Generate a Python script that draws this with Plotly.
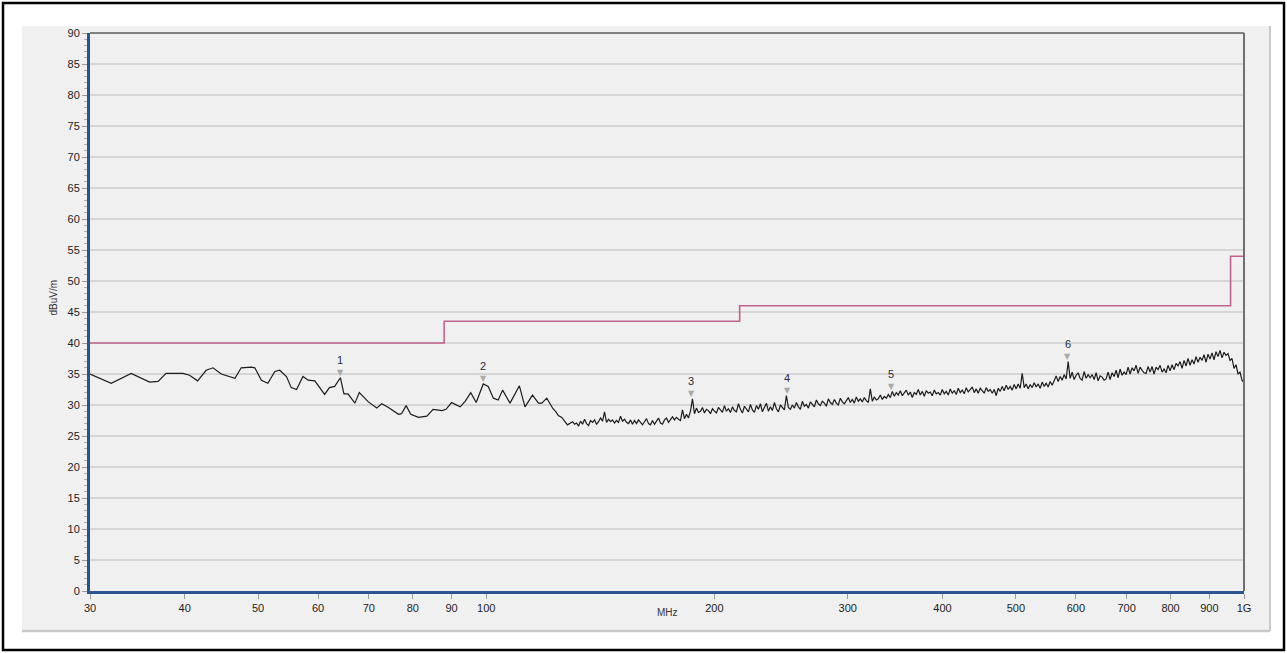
import numpy as np
import plotly.graph_objects as go

# ---------------- data ----------------
# sparse low-frequency part of the scan (MHz, dBuV/m)
low_freq = [30.0, 32.0, 34.0, 35.96, 36.9, 37.8, 39.8, 40.6, 41.6, 42.7, 43.6, 44.7, 46.6, 47.5,
            49.0, 49.5, 50.5, 51.5, 52.6, 53.4, 54.5, 55.3, 56.2, 57.3, 58.2, 59.4, 61.2, 62.1,
            63.1, 64.2, 64.9, 65.7, 67.1, 68.0, 69.9, 71.7, 72.8, 74.3, 76.6, 77.3, 78.4, 79.5,
            81.4, 82.6, 83.5, 85.1, 86.0, 87.4, 88.5, 90.0, 91.0, 92.4, 93.8, 95.4, 97.0, 99.1,
            100.6, 102.2, 103.7, 105.1, 107.5, 110.6, 112.5, 115.1, 117.2, 118.4, 120.2, 122.0,
            122.5, 123.6, 124.5, 125.8, 128.0]
low_level = [35.0, 33.5, 35.1, 33.7, 33.8, 35.1, 35.1, 34.8, 33.9, 35.6, 36.0, 35.0, 34.3, 36.0,
             36.1, 36.0, 34.0, 33.5, 35.4, 35.6, 34.6, 32.8, 32.5, 34.6, 34.0, 33.9, 31.7, 32.8,
             33.0, 34.4, 31.8, 31.8, 30.3, 32.0, 30.5, 29.5, 30.2, 29.6, 28.5, 28.6, 29.9, 28.5,
             28.0, 28.1, 28.2, 29.3, 29.2, 29.1, 29.3, 30.4, 30.1, 29.7, 30.6, 32.0, 30.4, 33.4,
             33.0, 31.1, 30.8, 32.4, 30.3, 33.1, 29.7, 31.6, 30.3, 30.3, 31.1, 29.7,
             29.4, 28.9, 28.3, 28.0, 26.8]

# dense part of the scan, 130 MHz .. 1 GHz (log-spaced sweep points)
dense_start = 130.0
dense_stop = 1000.0
dense_level = [
    27.3, 26.9, 27.1, 26.6, 27.4, 26.9, 27.7, 27.0, 26.7, 27.5,
    27.2, 27.6, 26.9, 27.3, 27.9, 27.4, 28.9, 27.2, 27.7, 27.3,
    27.6, 27.1, 27.5, 27.2, 28.2, 27.4, 27.7, 27.2, 27.0, 27.6,
    26.9, 27.5, 27.0, 27.6, 27.2, 26.8, 27.3, 27.8, 27.0, 26.8,
    27.5, 26.9, 27.4, 27.9, 27.1, 26.9, 27.6, 27.9, 27.2, 27.7,
    28.1, 27.6, 28.0, 27.7, 27.5, 29.2, 27.8, 28.5, 27.9, 29.0,
    31.0, 28.6, 29.5, 28.8, 29.0, 29.6, 28.7, 29.3, 29.1, 28.6,
    29.4, 29.0, 28.7, 29.6, 29.2, 28.8, 29.9, 29.0, 29.4, 28.8,
    29.7, 29.1, 28.9, 30.2, 29.3, 28.7, 29.8, 29.4, 28.9, 30.1,
    29.2, 28.8, 29.9, 29.3, 30.2, 28.9, 29.5, 30.3, 29.0, 29.7,
    29.1, 30.4, 29.4, 28.9, 30.0, 29.6, 29.2, 31.5, 29.6, 29.3,
    30.0, 29.5, 30.4, 29.7, 29.3, 30.6, 29.8, 30.1, 29.5, 30.5,
    30.0, 29.7, 30.8, 30.2, 29.9, 30.6, 30.3, 29.8, 31.0, 30.4,
    30.1, 30.9, 30.3, 30.0, 31.1, 30.5, 30.2, 30.8, 31.2, 30.4,
    30.9, 30.3, 31.3, 30.6, 31.0, 30.5, 31.2, 30.7, 30.4, 32.6,
    30.6, 31.3, 30.8, 31.0, 31.6, 30.9, 31.4, 31.1, 31.7, 31.2,
    32.2, 31.4, 32.0, 31.6, 32.3, 31.5, 31.9, 32.4, 31.6, 32.1,
    31.2, 32.0, 31.7, 32.5, 31.6, 32.2, 31.4, 32.3, 31.9, 32.1,
    31.5, 32.4, 31.8, 32.0, 31.6, 32.5, 31.8, 32.2, 31.6, 32.6,
    31.9, 32.3, 31.7, 32.7, 32.0, 32.4, 31.8, 32.8, 32.1, 32.5,
    32.9, 32.0, 32.6, 31.9, 32.7, 32.3, 31.9, 32.8, 32.2, 32.5,
    31.9, 32.5, 31.5, 32.7, 32.2, 33.0, 32.3, 33.2, 32.5, 33.0,
    32.4, 33.3, 32.6, 33.4, 32.7, 35.1, 32.8, 33.4, 32.6, 33.3,
    32.8, 33.6, 32.9, 33.4, 32.7, 33.7, 33.0, 33.5, 32.9, 33.8,
    33.2, 33.9, 34.7, 33.8, 34.6, 34.0, 34.9, 34.2, 37.0, 34.3,
    35.3, 34.1, 34.8, 35.2, 34.3, 34.0, 35.4, 34.3, 34.9, 34.4,
    34.9, 34.1, 35.2, 33.9, 34.7, 34.5, 34.0, 34.2, 35.3, 34.1,
    35.2, 34.6, 35.6, 34.4, 35.8, 34.8, 35.3, 34.9, 36.1, 35.0,
    36.0, 35.5, 36.4, 35.1, 36.1, 35.6, 35.2, 35.1, 36.2, 35.3,
    36.2, 35.0, 36.1, 35.7, 36.4, 35.3, 35.8, 35.2, 36.4, 35.5,
    36.5, 35.7, 36.7, 36.3, 37.0, 35.9, 37.2, 36.3, 37.5, 36.4,
    37.3, 36.6, 37.8, 36.9, 37.7, 37.2, 38.1, 36.9, 38.2, 37.4,
    38.4, 37.3, 38.6, 37.8, 38.8, 37.6, 38.5, 38.0, 38.3, 37.2,
    37.5, 35.9, 36.5, 35.0, 35.3, 34.0, 33.6,
]

# limit line (step)
limit_freq = [30, 88, 216, 960, 1000]
limit_level = [40, 43.5, 46, 54, 54]

# markers
marker_id = ["1", "2", "3", "4", "5", "6"]
marker_freq = [64.2, 99.1, 186.5, 249.5, 342.5, 585.0]
marker_level = [34.4, 33.4, 31.0, 31.5, 32.1, 37.0]

# axis ticks
x_tickvals = [30, 40, 50, 60, 70, 80, 90, 100, 200, 300, 400, 500, 600, 700, 800, 900, 1000]
x_ticktext = ["30", "40", "50", "60", "70", "80", "90", "100", "200", "300", "400", "500",
              "600", "700", "800", "900", "1G"]

# ---------------- figure ----------------
dense_freq = np.geomspace(dense_start, dense_stop, len(dense_level))
scan_freq = list(low_freq) + list(dense_freq)
scan_level = list(low_level) + list(dense_level)

W, H = 1287, 653
L, R, T, B = 90, 43, 33, 62
PW, PH = W - L - R, H - T - B


def px(x):
    return (x - L) / PW


def py(y):
    return (H - B - y) / PH


FONT = "Liberation Sans, Arial, sans-serif"

fig = go.Figure()
fig.add_trace(go.Scatter(x=limit_freq, y=limit_level, mode="lines", line_shape="hv",
                         line=dict(color="#c2638f", width=1.6), hoverinfo="skip"))
fig.add_trace(go.Scatter(x=scan_freq, y=scan_level, mode="lines",
                         line=dict(color="#1c1c1c", width=1.2)))

annotations = []
for mid, mf, ml in zip(marker_id, marker_freq, marker_level):
    annotations.append(dict(x=np.log10(mf), y=ml, xref="x", yref="y", text="▼", showarrow=False,
                            yshift=5, font=dict(size=8, color="#a9a9a9", family="DejaVu Sans")))
    annotations.append(dict(x=np.log10(mf), y=ml, xref="x", yref="y", text=mid, showarrow=False,
                            yshift=18, font=dict(size=11, color="#2a2a40", family=FONT)))
annotations.append(dict(x=px(45), y=py(298), xref="paper", yref="paper", text="dBuV/m",
                        textangle=-90, showarrow=False, font=dict(size=10, color="#333", family=FONT)))
annotations.append(dict(x=px(667), y=py(620), xref="paper", yref="paper", text="MHz",
                        showarrow=False, font=dict(size=10, color="#333", family=FONT)))

shapes = [
    # outer black frame
    dict(type="rect", xref="paper", yref="paper", x0=px(3), x1=px(1284), y0=py(650), y1=py(3),
         line=dict(color="black", width=2.5), fillcolor="white", layer="below"),
    # gray panel
    dict(type="rect", xref="paper", yref="paper", x0=px(22), x1=px(1270), y0=py(631), y1=py(26),
         line=dict(width=0), fillcolor="#f0f0f0", layer="below"),
    dict(type="line", xref="paper", yref="paper", x0=px(22), x1=px(1270), y0=py(631), y1=py(631),
         line=dict(color="#c9c9c9", width=2.5), layer="below"),
    dict(type="line", xref="paper", yref="paper", x0=px(1270), x1=px(1270), y0=py(631), y1=py(26),
         line=dict(color="#c9c9c9", width=2), layer="below"),
    # top and right plot borders
    dict(type="line", xref="paper", yref="paper", x0=0, x1=1, y0=1, y1=1,
         line=dict(color="#808080", width=2)),
    dict(type="line", xref="paper", yref="paper", x0=1, x1=1, y0=0, y1=1,
         line=dict(color="#707070", width=2)),
]

fig.update_layout(
    width=W, height=H,
    margin=dict(l=L, r=R, t=T, b=B),
    paper_bgcolor="white",
    plot_bgcolor="#f0f0f0",
    showlegend=False,
    hovermode=False,
    shapes=shapes,
    annotations=annotations,
    font=dict(family=FONT, size=11, color="#222"),
    xaxis=dict(type="log", range=[np.log10(30), np.log10(1000)], tickvals=x_tickvals,
               ticktext=x_ticktext, showgrid=False, zeroline=False, showline=True,
               linecolor="#2a5590", linewidth=2.5, ticks="outside", ticklen=5, tickcolor="#9a9a9a",
               tickfont=dict(size=11, color="#222", family=FONT)),
    yaxis=dict(range=[0, 90], dtick=5, tick0=0, showgrid=True, gridcolor="#d6d6d6", gridwidth=2,
               zeroline=False, showline=True, linecolor="#24558f", linewidth=3, ticks="outside",
               ticklen=5, tickcolor="#9a9a9a", tickfont=dict(size=11, color="#222", family=FONT),
               minor=dict(dtick=1, ticks="outside", ticklen=3, tickcolor="#b0b0b0", showgrid=False)),
)

fig.write_html("out.html", config={"displayModeBar": False},
               post_script="document.body.style.margin='0';document.body.style.overflow='hidden';")
